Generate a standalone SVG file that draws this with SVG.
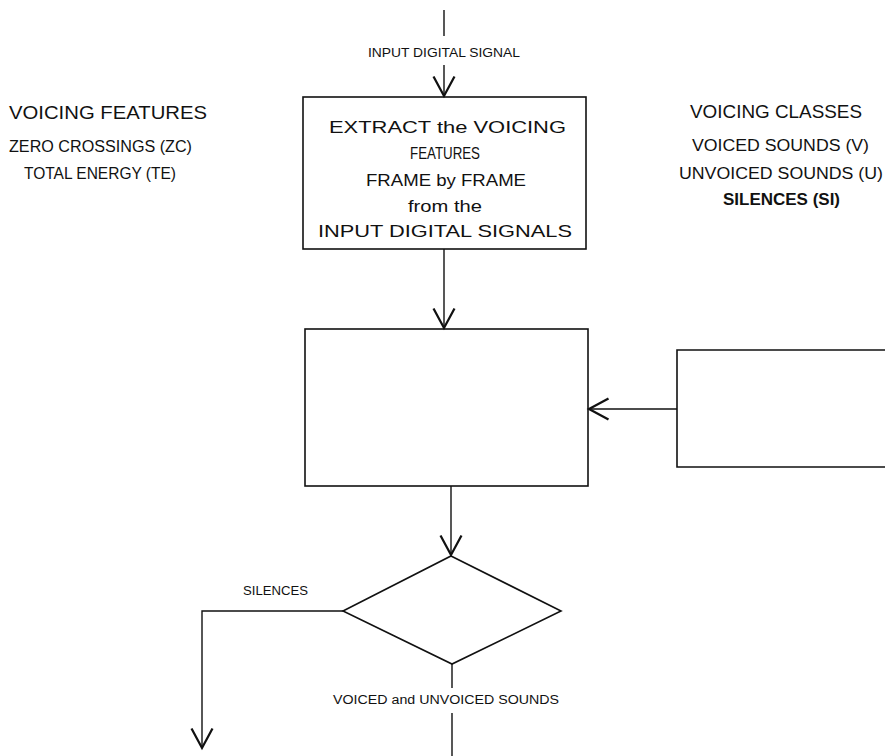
<svg xmlns="http://www.w3.org/2000/svg" width="885" height="756" viewBox="0 0 885 756">
<style>
text{font-family:"Liberation Sans",Arial,sans-serif;fill:#111;}
.h{font-size:19px;}
.t{font-size:16px;}
.b{font-size:17px;}
.s{font-size:12px;}
.box{fill:none;stroke:#111;stroke-width:1.6;}
.ln{fill:none;stroke:#111;stroke-width:1.4;}
</style>
<defs>
<marker id="arr" markerUnits="userSpaceOnUse" markerWidth="24" markerHeight="24" refX="14" refY="8" orient="auto" viewBox="0 0 16 16">
<path d="M1,1 L14,8 L1,15" fill="none" stroke="#111" stroke-width="1.5"/>
</marker>
</defs>
<g id="legend-features">
<text class="h" x="9" y="119" textLength="198" lengthAdjust="spacingAndGlyphs">VOICING FEATURES</text>
<text class="t" x="9" y="152" textLength="183" lengthAdjust="spacingAndGlyphs">ZERO CROSSINGS (ZC)</text>
<text class="t" x="24" y="179" textLength="152" lengthAdjust="spacingAndGlyphs">TOTAL ENERGY (TE)</text>
</g>
<g id="legend-classes">
<text class="h" x="690" y="118" textLength="172" lengthAdjust="spacingAndGlyphs">VOICING CLASSES</text>
<text class="t" x="692" y="151" textLength="177" lengthAdjust="spacingAndGlyphs">VOICED SOUNDS (V)</text>
<text class="t" x="679" y="179" textLength="204" lengthAdjust="spacingAndGlyphs">UNVOICED SOUNDS (U)</text>
<text class="t" x="723" y="205" textLength="117" lengthAdjust="spacingAndGlyphs" font-weight="bold">SILENCES (SI)</text>
</g>
<g id="extract">
<rect class="box" x="303" y="97" width="283" height="152"/>
<text class="b" x="329" y="133" textLength="237" lengthAdjust="spacingAndGlyphs">EXTRACT the VOICING</text>
<text class="b" x="410" y="159" textLength="70" lengthAdjust="spacingAndGlyphs">FEATURES</text>
<text class="b" x="366" y="186" textLength="160" lengthAdjust="spacingAndGlyphs">FRAME by FRAME</text>
<text class="b" x="408" y="212" textLength="74" lengthAdjust="spacingAndGlyphs">from the</text>
<text class="b" x="318" y="237" textLength="254" lengthAdjust="spacingAndGlyphs">INPUT DIGITAL SIGNALS</text>
</g>
<g id="classify">
<rect class="box" x="305" y="329" width="283" height="157"/>
</g>
<g id="reference">
<path class="box" d="M886,350 H677 V467 H886"/>
</g>
<g id="decision">
<polygon class="box" points="451,556 561,611 452,664 343,611"/>
</g>
<g id="connectors">
<line class="ln" x1="444" y1="10" x2="444" y2="36"/>
<line class="ln" x1="444" y1="65" x2="444" y2="96" marker-end="url(#arr)"/>
<line class="ln" x1="444" y1="249" x2="444" y2="328" marker-end="url(#arr)"/>
<line class="ln" x1="677" y1="409" x2="589" y2="409" marker-end="url(#arr)"/>
<line class="ln" x1="451" y1="486" x2="451" y2="555" marker-end="url(#arr)"/>
<polyline class="ln" points="343,611 202,611 202,748" marker-end="url(#arr)"/>
<line class="ln" x1="452" y1="664" x2="452" y2="688"/>
<line class="ln" x1="452" y1="713" x2="452" y2="756"/>
<text class="s" x="368" y="57" textLength="152" lengthAdjust="spacingAndGlyphs">INPUT DIGITAL SIGNAL</text>
<text class="s" x="243" y="595" textLength="65" lengthAdjust="spacingAndGlyphs">SILENCES</text>
<text class="s" x="333" y="704" textLength="226" lengthAdjust="spacingAndGlyphs">VOICED and UNVOICED SOUNDS</text>
</g>
</svg>
